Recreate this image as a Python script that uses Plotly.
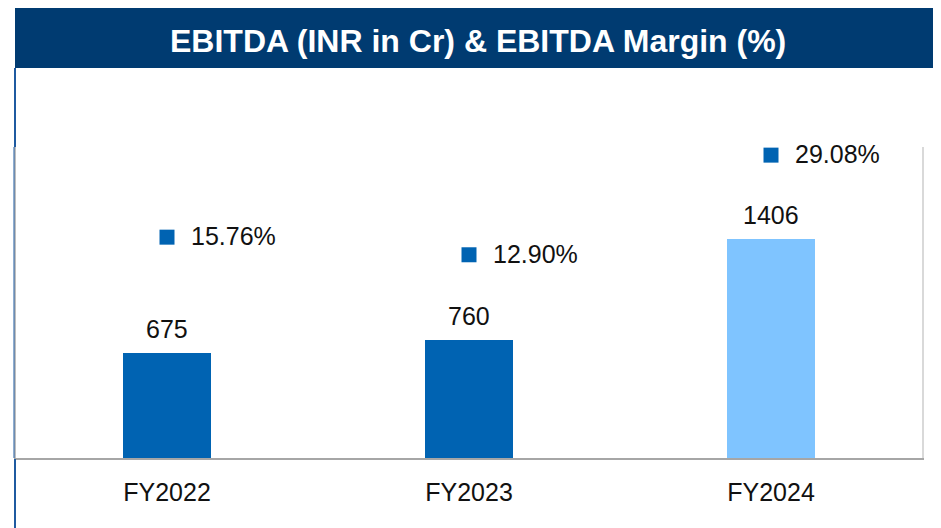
import plotly.graph_objects as go

years = ["FY2022", "FY2023", "FY2024"]
ebitda = [675, 760, 1406]
margin = [15.76, 12.90, 29.08]
margin_labels = ["15.76%", "12.90%", "29.08%"]

W, H = 941, 528
FONT = "Liberation Sans, Arial, sans-serif"
DARK = "#0063B2"
LIGHT = "#7FC4FF"
NAVY = "#003B71"

# the page puts the figure 8px in from the top-left corner (body margin),
# so the layout is worked out in screen pixels and shifted back by that
OFF = 8
PL, PR, PT, PB = 16, 922, 147, 458  # plot area on screen

bar_colors = [DARK, DARK, LIGHT]


def px_x(p):
    return (p - PL) / (PR - PL)


def px_y(p):
    return (PB - p) / (PB - PT)


fig = go.Figure()

fig.add_trace(go.Bar(
    x=years, y=ebitda,
    marker=dict(color=bar_colors, line=dict(width=0)),
    width=0.29,
    hoverinfo="skip",
))

fig.add_trace(go.Scatter(
    x=years, y=margin,
    mode="markers",
    marker=dict(symbol="square", size=15, color=DARK),
    yaxis="y2",
    hoverinfo="skip",
))

annotations = []
# value labels above bars
for yr, v in zip(years, ebitda):
    annotations.append(dict(
        x=yr, y=v, xref="x", yref="y", text=str(v),
        showarrow=False, yanchor="bottom", yshift=8,
        font=dict(family=FONT, size=25, color="#111111"),
    ))
# margin labels right of the markers
for yr, m, lab in zip(years, margin, margin_labels):
    annotations.append(dict(
        x=yr, y=m, xref="x", yref="y2", text=lab,
        showarrow=False, xanchor="left", yanchor="middle", xshift=22,
        yshift=1,
        font=dict(family=FONT, size=25, color="#111111"),
    ))
# title text in the header band
annotations.append(dict(
    x=px_x(478), y=px_y(41), xref="paper", yref="paper",
    text="<b>EBITDA (INR in Cr) & EBITDA Margin (%)</b>",
    showarrow=False, xanchor="center", yanchor="middle",
    font=dict(family=FONT, size=32, color="white"),
))

shapes = [
    # header band
    dict(type="rect", xref="paper", yref="paper",
         x0=px_x(15), x1=px_x(940), y0=px_y(68), y1=px_y(4),
         fillcolor=NAVY, line=dict(width=0), layer="below"),
    # outer blue frame, left (outside the grey axis part) and right
    dict(type="line", xref="paper", yref="paper",
         x0=px_x(15), x1=px_x(15), y0=px_y(68), y1=px_y(PT),
         line=dict(color="#1F5AA0", width=2), layer="above"),
    dict(type="line", xref="paper", yref="paper",
         x0=px_x(15), x1=px_x(15), y0=px_y(PB + 1), y1=px_y(H + 10),
         line=dict(color="#1F5AA0", width=2), layer="above"),
    dict(type="line", xref="paper", yref="paper",
         x0=px_x(14), x1=px_x(14), y0=px_y(PT), y1=px_y(PB),
         line=dict(color="#1F5AA0", width=1), layer="above"),
    dict(type="line", xref="paper", yref="paper",
         x0=px_x(937.5), x1=px_x(937.5), y0=px_y(68), y1=px_y(H + 10),
         line=dict(color="#1F5AA0", width=2.5), layer="above"),
]

fig.update_layout(
    width=W, height=H,
    margin=dict(l=PL - OFF, r=W - (PR - OFF), t=PT - OFF, b=H - (PB - OFF),
                autoexpand=False),
    paper_bgcolor="white", plot_bgcolor="white",
    showlegend=False,
    bargap=0,
    annotations=annotations,
    shapes=shapes,
    xaxis=dict(
        showgrid=False, zeroline=False,
        showline=True, linecolor="#A6A6A6", linewidth=2,
        ticks="", ticklabelstandoff=11,
        tickfont=dict(family=FONT, size=25, color="#111111"),
    ),
    yaxis=dict(
        range=[0, 2000], showgrid=False, zeroline=False,
        showticklabels=False, ticks="",
        showline=True, linecolor="#BFBFBF", linewidth=2,
    ),
    yaxis2=dict(
        range=[-20.1, 30.4], overlaying="y", side="right",
        showgrid=False, zeroline=False,
        showticklabels=False, ticks="",
        showline=True, linecolor="#D9D9D9", linewidth=1.5,
    ),
)

fig.write_html("out.html")
